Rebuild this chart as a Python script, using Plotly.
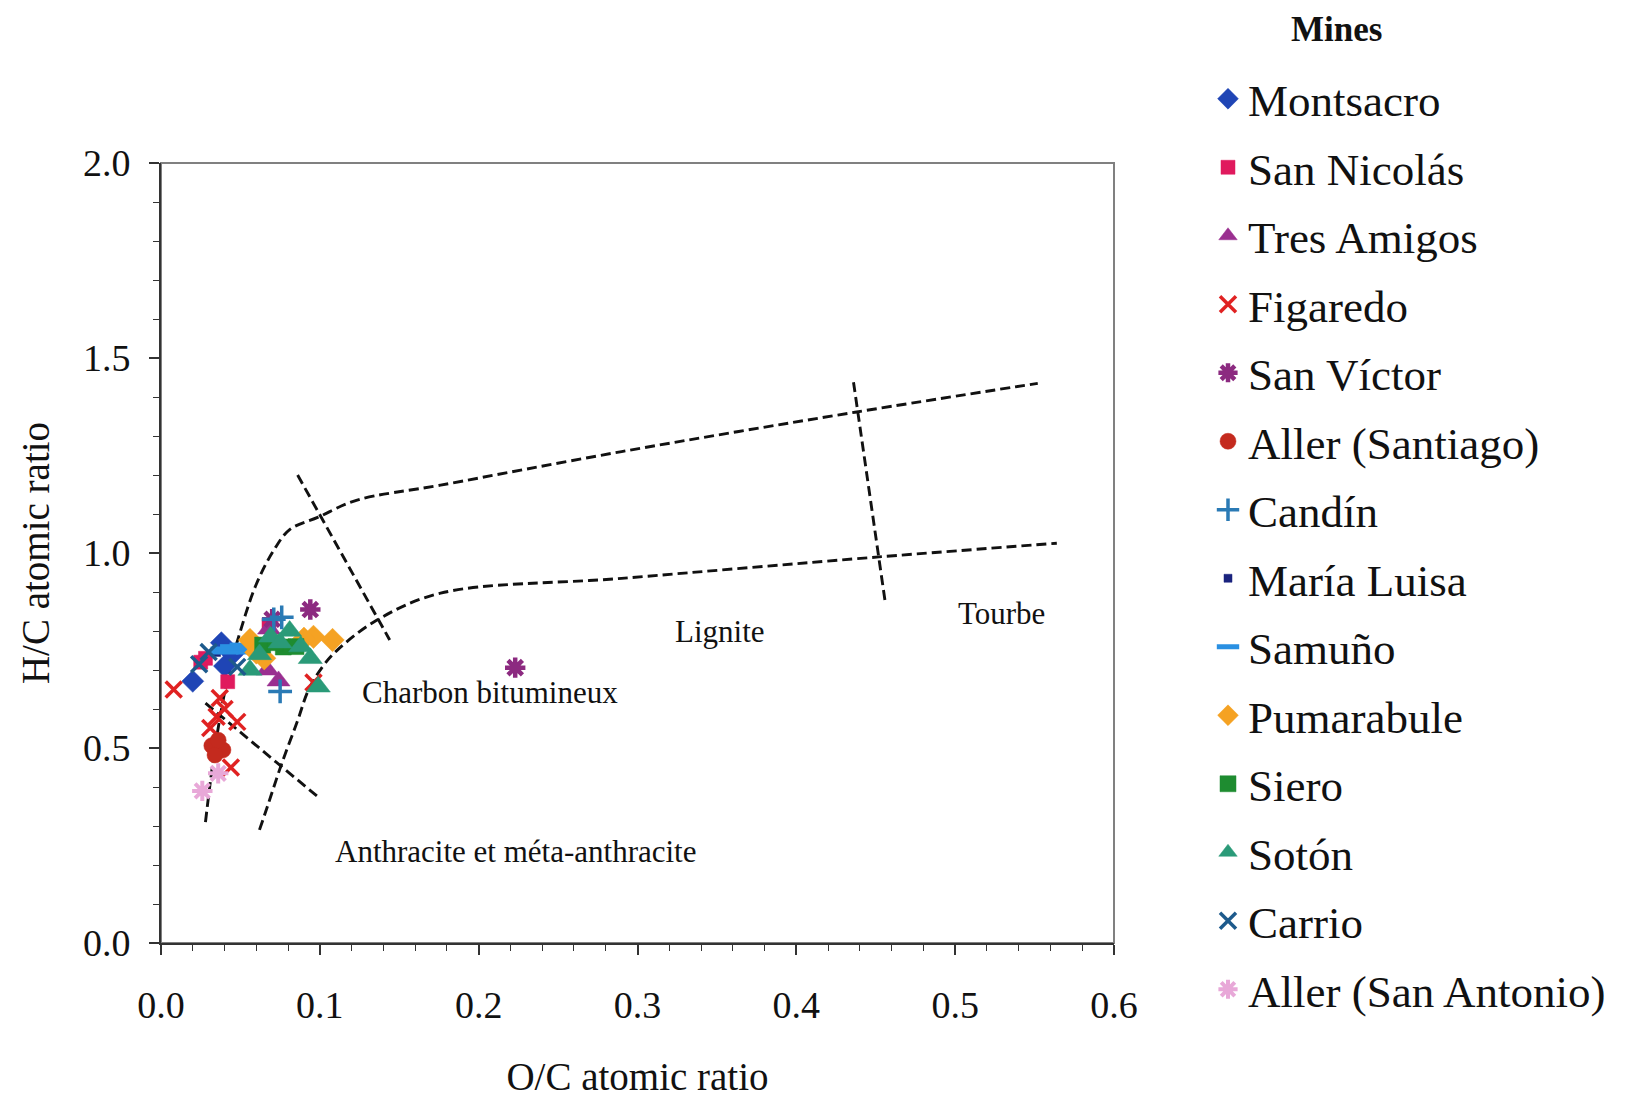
import plotly.graph_objects as go

# ---------------- data ----------------
mines = ["Montsacro", "San Nicolás", "Tres Amigos", "Figaredo", "San Víctor",
         "Aller (Santiago)", "Candín", "María Luisa", "Samuño", "Pumarabule",
         "Siero", "Sotón", "Carrio", "Aller (San Antonio)"]

montsacro_oc = [0.020, 0.038, 0.040, 0.045]
montsacro_hc = [0.671, 0.770, 0.710, 0.740]

san_nicolas_oc = [0.025, 0.028, 0.042, 0.068]
san_nicolas_hc = [0.720, 0.730, 0.670, 0.815]

tres_amigos_oc = [0.067, 0.074, 0.068]
tres_amigos_hc = [0.700, 0.672, 0.805]

figaredo_oc = [0.008, 0.037, 0.035, 0.031, 0.048, 0.044, 0.096, 0.040]
figaredo_hc = [0.650, 0.628, 0.580, 0.551, 0.567, 0.450, 0.668, 0.600]

san_victor_oc = [0.094, 0.070, 0.223]
san_victor_hc = [0.855, 0.830, 0.706]

aller_santiago_oc = [0.032, 0.039, 0.034, 0.036]
aller_santiago_hc = [0.506, 0.495, 0.482, 0.520]

candin_oc = [0.071, 0.076, 0.075]
candin_hc = [0.830, 0.835, 0.645]

maria_luisa_oc = [0.035]
maria_luisa_hc = [0.745]

samuno_oc = [0.046, 0.056, 0.040, 0.052]
samuno_hc = [0.756, 0.750, 0.750, 0.760]

pumarabule_oc = [0.056, 0.065, 0.096, 0.108, 0.090, 0.060]
pumarabule_hc = [0.777, 0.730, 0.785, 0.777, 0.780, 0.745]

siero_oc = [0.064, 0.077, 0.085, 0.072]
siero_hc = [0.764, 0.759, 0.760, 0.770]

soton_oc = [0.056, 0.069, 0.081, 0.094, 0.099, 0.075, 0.088, 0.062]
soton_hc = [0.700, 0.785, 0.800, 0.730, 0.657, 0.770, 0.760, 0.740]

carrio_oc = [0.030, 0.048, 0.024]
carrio_hc = [0.746, 0.708, 0.715]

aller_san_antonio_oc = [0.026, 0.036]
aller_san_antonio_hc = [0.390, 0.435]

series_oc = [montsacro_oc, san_nicolas_oc, tres_amigos_oc, figaredo_oc, san_victor_oc,
             aller_santiago_oc, candin_oc, maria_luisa_oc, samuno_oc, pumarabule_oc,
             siero_oc, soton_oc, carrio_oc, aller_san_antonio_oc]
series_hc = [montsacro_hc, san_nicolas_hc, tres_amigos_hc, figaredo_hc, san_victor_hc,
             aller_santiago_hc, candin_hc, maria_luisa_hc, samuno_hc, pumarabule_hc,
             siero_hc, soton_hc, carrio_hc, aller_san_antonio_hc]

# coal rank boundary lines (van Krevelen diagram)
upper_oc = [0.028, 0.034, 0.042, 0.050, 0.060, 0.071, 0.081, 0.099, 0.123, 0.176, 0.29, 0.437, 0.552]
upper_hc = [0.31, 0.50, 0.68, 0.80, 0.92, 1.007, 1.06, 1.092, 1.135, 1.174, 1.26, 1.361, 1.435]
lower_oc = [0.062, 0.067, 0.076, 0.086, 0.093, 0.102, 0.111, 0.136, 0.176, 0.29, 0.452, 0.564]
lower_hc = [0.29, 0.35, 0.46, 0.57, 0.65, 0.71, 0.751, 0.828, 0.897, 0.935, 0.99, 1.025]
bit_lig_oc = [0.086, 0.144]
bit_lig_hc = [1.20, 0.777]
lig_tou_oc = [0.436, 0.456]
lig_tou_hc = [1.438, 0.873]
anthr_oc = [0.028, 0.099]
anthr_hc = [0.615, 0.374]

zone_labels = ["Charbon bitumineux", "Lignite", "Tourbe", "Anthracite et méta-anthracite"]
zone_oc = [0.207, 0.352, 0.529, 0.223]
zone_hc = [0.642, 0.799, 0.844, 0.234]

x_ticks = [0.0, 0.1, 0.2, 0.3, 0.4, 0.5, 0.6]
y_ticks = [0.0, 0.5, 1.0, 1.5, 2.0]

# ---------------- styles ----------------
styles = [
    dict(symbol="diamond", color="#1f45b5", size=17, lw=0.5),
    dict(symbol="square", color="#e01a5e", size=14, lw=0.5),
    dict(symbol="triangle-up", color="#9a2f90", size=20, lw=0.5),
    dict(symbol="x-thin-open", color="#e02222", size=16, lw=3.5),
    dict(symbol="asterisk-open", color="#8c2a80", size=17, lw=4.5),
    dict(symbol="circle", color="#c42a1e", size=16, lw=0.5),
    dict(symbol="cross-thin-open", color="#2a7ab5", size=17, lw=3.5),
    dict(symbol="square", color="#1a237e", size=8, lw=0.5),
    dict(symbol="line-ew-open", color="#2a90e2", size=20, lw=8),
    dict(symbol="diamond", color="#f5a223", size=18, lw=0.5),
    dict(symbol="square", color="#1e8c30", size=16, lw=0.5),
    dict(symbol="triangle-up", color="#2a9a78", size=21, lw=0.5),
    dict(symbol="x-thin-open", color="#1d5a8c", size=16, lw=3.5),
    dict(symbol="asterisk-open", color="#e8a8d8", size=17, lw=4),
]

FONT = "Liberation Serif, Times New Roman, serif"

# figure is placed 8 px into the page (body margin), so page coords - 8
W, H = 1620, 1090
L, R, T, B = 153, 514, 155, 155
PW, PH = W - L - R, H - T - B

fig = go.Figure()

dash = dict(color="#111111", width=2.9, dash="10px,5px")
for xs, ys in [(upper_oc, upper_hc), (lower_oc, lower_hc), (bit_lig_oc, bit_lig_hc),
               (lig_tou_oc, lig_tou_hc), (anthr_oc, anthr_hc)]:
    fig.add_trace(go.Scatter(x=xs, y=ys, mode="lines", line=dash, showlegend=False,
                             hoverinfo="skip", line_shape="spline"))

for name, xs, ys, st in zip(mines, series_oc, series_hc, styles):
    marker = dict(symbol=st["symbol"], size=st["size"], color=st["color"],
                  line=dict(color=st["color"], width=st["lw"]))
    fig.add_trace(go.Scatter(x=xs, y=ys, mode="markers", name=name, marker=marker,
                             legendgroup=name))

for t, x, y in zip(zone_labels, zone_oc, zone_hc):
    fig.add_annotation(x=x, y=y, text=t, showarrow=False, xref="x", yref="y",
                       font=dict(family=FONT, size=31, color="#111111"))

# legend heading "Mines"
fig.add_annotation(x=(1328 - L) / PW, y=(H - B - 22) / PH, xref="paper", yref="paper",
                   text="<b>Mines</b>", showarrow=False, xanchor="center", yanchor="middle",
                   font=dict(family=FONT, size=35, color="#111111"))

fig.add_shape(type="rect", xref="paper", yref="paper", x0=0, y0=0, x1=1, y1=1,
              line=dict(color="#808080", width=2), layer="below")

fig.update_xaxes(range=[0, 0.6], tickvals=x_ticks, ticktext=[f"{v:.1f}" for v in x_ticks],
                 ticks="outside", ticklen=10, tickwidth=1.5, tickcolor="#333333",
                 minor=dict(dtick=0.02, ticks="outside", ticklen=6, tickcolor="#333333", tickwidth=1.2),
                 showline=True, linecolor="#333333", linewidth=2, showgrid=False, zeroline=False,
                 tickfont=dict(family=FONT, size=38, color="#111111"),
                 ticklabelstandoff=17, automargin=False,
                 title=dict(text="O/C atomic ratio", font=dict(family=FONT, size=39, color="#111111"),
                            standoff=44))
fig.update_yaxes(range=[0, 2.0], tickvals=y_ticks, ticktext=[f"{v:.1f}" for v in y_ticks],
                 ticks="outside", ticklen=10, tickwidth=1.5, tickcolor="#333333",
                 minor=dict(dtick=0.1, ticks="outside", ticklen=6, tickcolor="#333333", tickwidth=1.2),
                 showline=True, linecolor="#333333", linewidth=2, showgrid=False, zeroline=False,
                 tickfont=dict(family=FONT, size=38, color="#111111"),
                 ticklabelstandoff=11, automargin=False,
                 title=dict(text="H/C atomic ratio", font=dict(family=FONT, size=39, color="#111111"),
                            standoff=21))

fig.update_layout(
    width=W, height=H,
    margin=dict(l=L, r=R, t=T, b=B, autoexpand=False),
    plot_bgcolor="white", paper_bgcolor="white",
    font=dict(family=FONT, color="#111111"),
    legend=dict(xref="container", yref="container", x=1200 / W, y=1 - 55 / H,
                xanchor="left", yanchor="top", traceorder="grouped", tracegroupgap=7,
                maxheight=1040,
                font=dict(family=FONT, size=45, color="#111111"),
                bgcolor="rgba(0,0,0,0)"),
)

fig.write_html("out.html")
